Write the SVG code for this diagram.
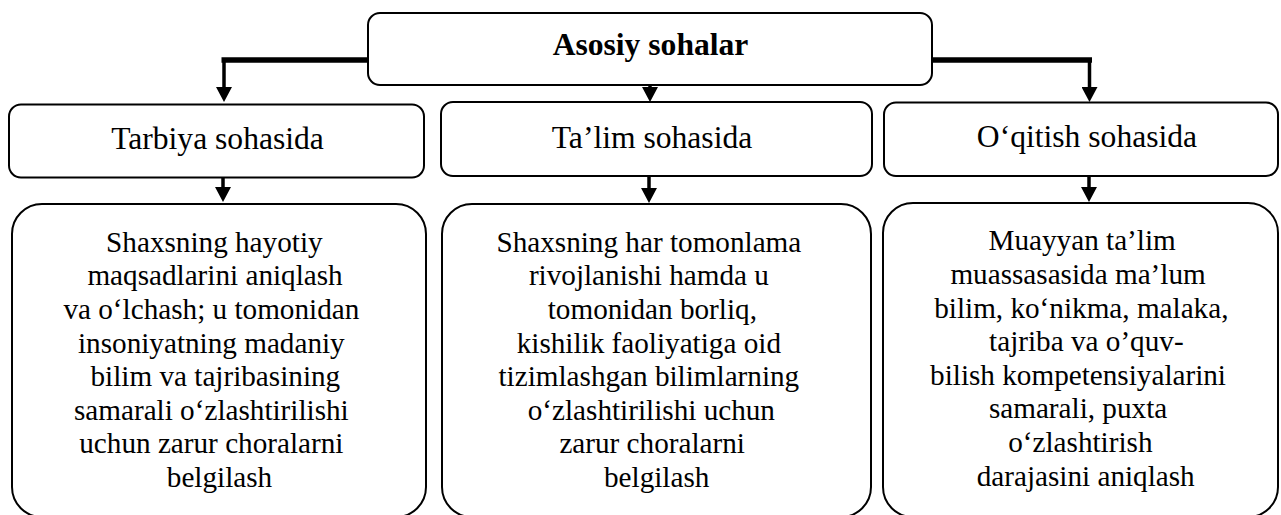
<svg xmlns="http://www.w3.org/2000/svg" width="1281" height="515" viewBox="0 0 1281 515">
<style>
.box{fill:#fff;stroke:#000;stroke-width:2}
.t{font-family:"Liberation Serif","Times New Roman",serif;fill:#000;text-anchor:middle}
.mid{font-size:31.6px}
.body{font-size:29.2px}
.bold{font-weight:bold}
.thick{stroke:#000;stroke-width:5.5;fill:none}
.ln{stroke:#000;stroke-width:3.5;fill:none}
</style>
<defs>
<marker id="arr" viewBox="0 0 15 16" refX="1" refY="8" markerWidth="15" markerHeight="16" markerUnits="userSpaceOnUse" orient="auto">
<path d="M0,0 L15,8 L0,16 z" fill="#000"/>
</marker>
</defs>
<rect width="1281" height="515" fill="#fff"/>
<g id="connectors">
<path class="thick" d="M368,60 H221.5"/>
<path class="ln" d="M224,58 V88" marker-end="url(#arr)"/>
<path class="thick" d="M932,60 H1092"/>
<path class="ln" d="M1089.5,58 V88" stroke-width="4" marker-end="url(#arr)"/>
<path class="ln" d="M650,80 V88" marker-end="url(#arr)"/>
<path class="ln" d="M223,178 V188" marker-end="url(#arr)"/>
<path class="ln" d="M649,176 V189" marker-end="url(#arr)"/>
<path class="ln" d="M1089,176 V188" marker-end="url(#arr)"/>
</g>
<g id="root">
<rect class="box" x="368" y="13" width="564" height="72" rx="12"/>
<text class="t mid bold" x="650.5" y="55">Asosiy sohalar</text>
</g>
<g id="tarbiya">
<rect class="box" x="9" y="104.5" width="415" height="73" rx="12"/>
<text class="t mid" x="217.5" y="149.3">Tarbiya sohasida</text>
</g>
<g id="talim">
<rect class="box" x="441" y="102" width="431" height="74" rx="12"/>
<text class="t mid" x="652" y="147.5">Ta’lim sohasida</text>
</g>
<g id="oqitish">
<rect class="box" x="884" y="102.5" width="394" height="73.5" rx="12"/>
<text class="t mid" x="1087" y="147.3">O‘qitish sohasida</text>
</g>
<g id="tarbiya-desc">
<rect class="box" x="12" y="204" width="414" height="313" rx="30"/>
<text class="t body">
<tspan x="218" y="251.7">Shaxsning hayotiy</tspan>
<tspan x="218.7" y="285.3">maqsadlarini aniqlash</tspan>
<tspan x="215" y="318.9">va o‘lchash; u tomonidan</tspan>
<tspan x="215" y="352.5">insoniyatning madaniy</tspan>
<tspan x="219" y="386.1">bilim va tajribasining</tspan>
<tspan x="215" y="419.7">samarali o‘zlashtirilishi</tspan>
<tspan x="215" y="453.3">uchun zarur choralarni</tspan>
<tspan x="219.5" y="486.9">belgilash</tspan>
</text>
</g>
<g id="talim-desc">
<rect class="box" x="442" y="204" width="429" height="313" rx="30"/>
<text class="t body">
<tspan x="652.5" y="251.7">Shaxsning har tomonlama</tspan>
<tspan x="652.5" y="285.3">rivojlanishi hamda u</tspan>
<tspan x="656" y="318.9">tomonidan borliq,</tspan>
<tspan x="652.5" y="352.5">kishilik faoliyatiga oid</tspan>
<tspan x="652.5" y="386.1">tizimlashgan bilimlarning</tspan>
<tspan x="655" y="419.7">o‘zlashtirilishi uchun</tspan>
<tspan x="655.8" y="453.3">zarur choralarni</tspan>
<tspan x="656.7" y="486.9">belgilash</tspan>
</text>
</g>
<g id="oqitish-desc">
<rect class="box" x="883" y="203" width="395" height="314" rx="30"/>
<text class="t body">
<tspan x="1085.8" y="250.3">Muayyan ta’lim</tspan>
<tspan x="1081.7" y="283.9">muassasasida ma’lum</tspan>
<tspan x="1085" y="317.5">bilim, ko‘nikma, malaka,</tspan>
<tspan x="1090" y="351.1">tajriba va o’quv-</tspan>
<tspan x="1081.7" y="384.7">bilish kompetensiyalarini</tspan>
<tspan x="1081.7" y="418.3">samarali, puxta</tspan>
<tspan x="1084" y="451.9">o‘zlashtirish</tspan>
<tspan x="1085.7" y="485.5">darajasini aniqlash</tspan>
</text>
</g>
</svg>
